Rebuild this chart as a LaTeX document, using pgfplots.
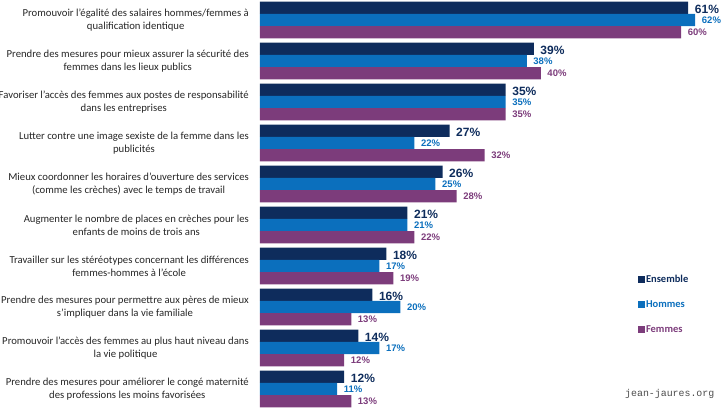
\documentclass[border=0pt]{standalone}
\usepackage{pgfplots}
\usepackage{pgfplotstable}
\usepackage{fontspec}
\pgfplotsset{compat=1.18}
\setmainfont{Carlito}
\newfontfamily\numfont{Liberation Sans}
\setmonofont{Liberation Mono}

\definecolor{ens}{RGB}{14,44,92}
\definecolor{hom}{RGB}{11,111,189}
\definecolor{fem}{RGB}{124,60,123}

% y = 9 is the top group
\pgfplotstableread{
y ens hom fem
9 61 62 60
8 39 38 40
7 35 35 35
6 27 22 32
5 26 25 28
4 21 21 22
3 18 17 19
2 16 20 13
1 14 17 12
0 12 11 13
}\sondage

\begin{document}
\begin{tikzpicture}[x=1pt,y=1pt]
\useasboundingbox (0,0) rectangle (724,409);

\begin{axis}[
  at={(260pt,-0.5pt)}, anchor=south west,
  scale only axis,
  width=456.3pt, height=410pt,
  xmin=0, xmax=65,
  ymin=-0.5, ymax=9.5,
  xbar, bar width=12.3pt,
  axis line style={draw=none},
  xtick=\empty,
  ytick={0,...,9},
  major tick length=0pt,
  yticklabels={
    {Prendre des mesures pour améliorer le congé maternité\\des professions les moins favorisées},
    {Promouvoir l’accès des femmes au plus haut niveau dans\\la vie politique},
    {Prendre des mesures pour permettre aux pères de mieux\\s’impliquer dans la vie familiale},
    {Travailler sur les stéréotypes concernant les différences\\femmes-hommes à l’école},
    {Augmenter le nombre de places en crèches pour les\\enfants de moins de trois ans},
    {Mieux coordonner les horaires d’ouverture des services\\(comme les crèches) avec le temps de travail},
    {Lutter contre une image sexiste de la femme dans les\\publicités},
    {Favoriser l’accès des femmes aux postes de responsabilité\\dans les entreprises},
    {Prendre des mesures pour mieux assurer la sécurité des\\femmes dans les lieux publics},
    {Promouvoir l’égalité des salaires hommes/femmes à\\qualification identique}
  },
  yticklabel style={align=center, anchor=east, inner sep=0pt, xshift=-11pt,
    font=\fontsize{10.7}{12.7}\selectfont, text=black!85},
  clip=false,
  point meta=x,
  /pgf/number format/assume math mode=true,
  nodes near coords={\pgfmathprintnumber{\pgfplotspointmeta}\%},
  every node near coord/.append style={anchor=west, inner sep=0pt, xshift=6.5pt},
  legend style={at={(axis description cs:0.828,0.2549)}, anchor=west,
    draw=none, fill=none, inner sep=0pt, row sep=13pt,
    font=\fontsize{10.5}{12}\selectfont\bfseries,
    nodes={inner sep=1pt, text height=8pt, text depth=2pt},
    legend cell align=left},
  legend image code/.code={\fill[#1] (0pt,-3.5pt) rectangle (7pt,3.5pt);},
]
\addplot[fill=ens, draw=none, bar shift=12.3pt,
  every node near coord/.append style={text=ens, yshift=-1.5pt,
    font=\numfont\fontsize{12}{12}\selectfont\bfseries}]
  table[x=ens, y=y] {\sondage};
\addlegendentry{\textcolor{ens}{Ensemble}}
\addplot[fill=hom, draw=none, bar shift=0pt,
  every node near coord/.append style={text=hom,
    font=\numfont\fontsize{9.5}{9.5}\selectfont\bfseries}]
  table[x=hom, y=y] {\sondage};
\addlegendentry{\textcolor{hom}{Hommes}}
\addplot[fill=fem, draw=none, bar shift=-12.3pt,
  every node near coord/.append style={text=fem,
    font=\numfont\fontsize{9.5}{9.5}\selectfont\bfseries}]
  table[x=fem, y=y] {\sondage};
\addlegendentry{\textcolor{fem}{Femmes}}
\end{axis}

\node[anchor=west, inner sep=0pt, text=black!70,
  font=\ttfamily\fontsize{9.9}{10}\selectfont] at (625,15) {jean-jaures.org};
\end{tikzpicture}
\end{document}
